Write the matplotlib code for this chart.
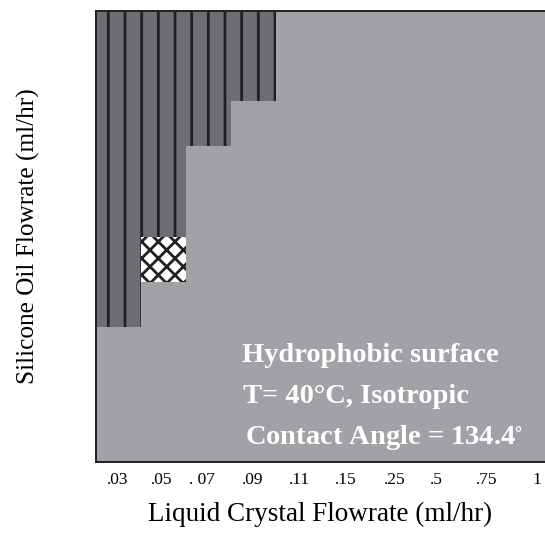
import matplotlib
matplotlib.use("Agg")
import matplotlib.pyplot as plt

# ---- data ----
x_labels = ['.03', '.05', '. 07', '.09', '.11', '.15', '.25', '.5', '.75', '1']
# cell state per row (top row first): 0 = hydrophobic (grey), 1 = dark hatched, 2 = cross-hatched
grid_rows = [
    [1, 1, 1, 1, 0, 0, 0, 0, 0, 0],
    [1, 1, 1, 1, 0, 0, 0, 0, 0, 0],
    [1, 1, 1, 0, 0, 0, 0, 0, 0, 0],
    [1, 1, 0, 0, 0, 0, 0, 0, 0, 0],
    [1, 1, 0, 0, 0, 0, 0, 0, 0, 0],
    [1, 2, 0, 0, 0, 0, 0, 0, 0, 0],
    [1, 0, 0, 0, 0, 0, 0, 0, 0, 0],
    [0, 0, 0, 0, 0, 0, 0, 0, 0, 0],
    [0, 0, 0, 0, 0, 0, 0, 0, 0, 0],
    [0, 0, 0, 0, 0, 0, 0, 0, 0, 0],
]
annotation_lines = ["Hydrophobic surface", "T= 40\u00b0C, Isotropic", "Contact Angle = 134.4$^{\\circ}$"]

# ---- style ----
plt.rcParams['font.family'] = ['Liberation Serif', 'DejaVu Serif']
plt.rcParams['mathtext.fontset'] = 'stix'
plt.rcParams['hatch.linewidth'] = 2.0

LIGHT = '#a1a2a6'
DARK = '#6d6e71'
INK = '#231f20'

fig = plt.figure(figsize=(5.45, 5.33), dpi=100)
ax = fig.add_axes([96 / 545, 71 / 533, 449 / 545, 451 / 533])
ax.set_facecolor(LIGHT)

n_rows = len(grid_rows)
styles = {1: dict(color=DARK, hatch='|'), 2: dict(color='white', hatch='xx')}
for r, row in enumerate(grid_rows):
    y0 = n_rows - 1 - r
    for c, state in enumerate(row):
        if state == 0:
            continue
        st = styles[state]
        ax.bar(c, 1, bottom=y0, width=1, align='edge', color=st['color'],
               hatch=st['hatch'], edgecolor=INK, linewidth=0, antialiased=False)

ax.set_xlim(0, len(x_labels))
ax.set_ylim(0, n_rows)

tick_pos = [0.48, 1.46, 2.36, 3.48, 4.54, 5.56, 6.66, 7.59, 8.71, 9.82]
ax.set_xticks(tick_pos)
ax.set_xticklabels(x_labels, fontsize=12.5)
ax.tick_params(axis='x', length=0, pad=7)
ax.set_yticks([])

for side in ['top', 'left', 'bottom']:
    ax.spines[side].set_color(INK)
    ax.spines[side].set_linewidth(1.4)
ax.spines['right'].set_visible(False)

ax.set_xlabel('Liquid Crystal Flowrate (ml/hr)', fontsize=19.5, labelpad=10)
ax.set_ylabel('Silicone Oil Flowrate (ml/hr)', fontsize=18.2, labelpad=40)

text_x = [3.25, 3.28, 3.31]
text_y = [2.22, 1.31, 0.40]
for s, tx, ty in zip(annotation_lines, text_x, text_y):
    ax.text(tx, ty, s, color='white', fontsize=20.5, fontweight='bold',
            ha='left', va='baseline')

fig.savefig('out.png', dpi=100)
